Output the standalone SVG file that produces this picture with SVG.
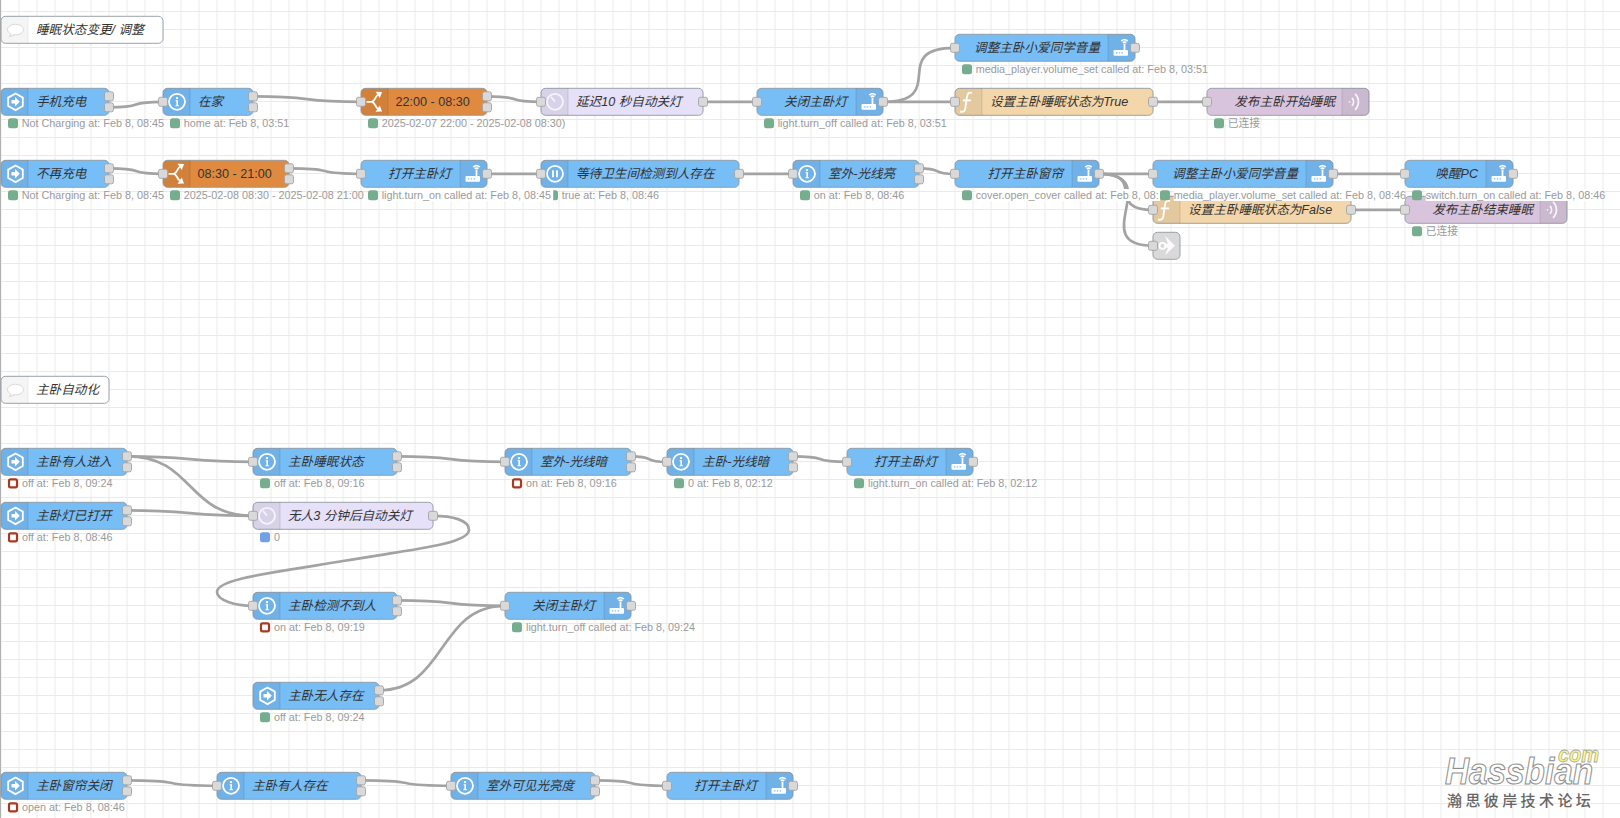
<svg xmlns="http://www.w3.org/2000/svg" width="1620" height="818" viewBox="0 0 1620 818">
<style>
text{font-family:"Liberation Sans","Noto Sans CJK SC",sans-serif}
.body{stroke:#8f9aa3;stroke-width:.9}
.blue{fill:#77bdf6}.orange{fill:#e08a3f}.delay{fill:#e6e0f8}.func{fill:#f3d6a9}.mqtt{fill:#d8c5dd}.link{fill:#d9d9d9}.note{fill:#fff}
.shade{fill:#000;fill-opacity:.06}
.sep{stroke:#000;stroke-opacity:.12;stroke-width:.9}
.lbl{font-size:12.6px;font-style:italic;fill:#333}
.plain{font-size:12.6px;fill:#333}
.end{text-anchor:end}
.st{font-size:10.8px;fill:#9a9a9a}
.bg{fill:#fff}
.ok{fill:#75ad8e}.info{fill:#6fa0e8}.bad{fill:#fff;stroke:#a83a22;stroke-width:2.2}
.wire{fill:none;stroke:#a3a3a3;stroke-width:2.7}
.ico{fill:none;stroke:#fff;stroke-width:1.8}
.fico{fill:#fff}
</style>
<defs>
<pattern id="grid" width="18" height="18" patternUnits="userSpaceOnUse" patternTransform="translate(.5,11)">
<path d="M.5 0V18M0 .5H18" fill="none" stroke="#eaeaea" stroke-width="1"/>
</pattern>
<rect id="port" x="-4.5" y="-4.5" width="9" height="9" rx="2" fill="#d9d9d9" stroke="#a3a3a3" stroke-width=".9"/>
<g id="shL"><path class="shade" d="M27 0H4.5A4.5 4.5 0 0 0 0 4.5V22.5A4.5 4.5 0 0 0 4.5 27H27Z"/><path class="sep" d="M27 0V27"/></g>
<g id="shR"><path class="shade" d="M0 0H22.5A4.5 4.5 0 0 1 27 4.5V22.5A4.5 4.5 0 0 1 22.5 27H0Z"/><path class="sep" d="M0 0V27"/></g>
<g id="hex"><path class="ico" stroke-width="2" d="M14.5 5.2L21.8 9.3V17.7L14.5 21.8L7.2 17.7V9.3Z"/><path class="fico" d="M10.5 11.8H14V8.8L18.8 13.5L14 18.2V15.2H10.5Z"/></g>
<g id="inf"><circle class="ico" cx="14" cy="13.5" r="8"/><circle class="fico" cx="14" cy="9.8" r="1.2"/><path class="fico" d="M12.6 12H15V17H16V18H12.4V17H13.4V13H12.6Z"/></g>
<g id="swi"><path class="ico" stroke-width="2.6" d="M5.5 13.5H10.5C14 13.5 14 8 17 6.5M10.5 13.5C14 13.5 14 19 17 20.5"/><path class="fico" d="M14.5 3.5L21 3.8L18.8 9.8ZM14.5 23.5L21 23.2L18.8 17.2Z"/></g>
<g id="clk"><circle class="ico" stroke-opacity=".75" cx="14" cy="13.5" r="8"/><path class="ico" stroke-opacity=".75" d="M14 13.5L10 8.5"/></g>
<g id="pau"><circle class="ico" cx="14" cy="13.5" r="8"/><path class="ico" stroke-width="1.2" d="M12 10V17M16 10V17"/></g>
<g id="rtr"><rect class="fico" x="5.5" y="15.7" width="14.5" height="5.7" rx="1"/><path class="ico" stroke-width="1.1" d="M16.5 16V9.5M14.8 8.6A2.6 2.6 0 0 1 18.2 8.6M13.3 6.8A4.8 4.8 0 0 1 19.7 6.8"/><path d="M8 18.6H9.4M10.8 18.6H12.2M13.6 18.6H15" stroke="#77bdf6" stroke-width="1.3"/></g>
<g id="fnc"><path class="ico" stroke-width="2.2" d="M17 4.8C13.5 3.4 12.3 5.5 11.8 9.5L10.3 20C9.8 23.5 7.5 24 5 23M7.8 12H16"/></g>
<g id="wav"><circle class="fico" cx="7.5" cy="13.5" r=".9" fill-opacity=".8"/><path class="ico" stroke-width="1.5" stroke-opacity=".85" d="M10 9.5A6 6 0 0 1 10 17.5M13 5.5A11 11 0 0 1 13 21.5"/></g>
<g id="lnk"><path class="fico" fill-opacity=".9" d="M12 3.5L22 13.5L12 23L15 15.5H11.5V11.5H15Z"/><circle class="ico" stroke-width="1.2" cx="9.5" cy="13.5" r="3"/></g>
<g id="bub"><path d="M14.5 8C10 8 6.5 10.3 6.5 13.3C6.5 15.2 7.8 16.6 9.8 17.5L8.5 20.5L13 18.5C13.5 18.6 14 18.6 14.5 18.6C19 18.6 22.5 16.3 22.5 13.3C22.5 10.3 19 8 14.5 8Z" fill="#fff" stroke="#d8d8d8" stroke-width="1"/></g>
</defs>

<rect width="1620" height="818" fill="#fff"/>
<rect width="1620" height="818" fill="url(#grid)"/>
<path d="M.5 0V818" stroke="#b0b0b0" stroke-width="1"/>

<g id="connectors">
<path class="wire" d="M109 107.3C149.7 107.3 122.3 101.8 163 101.8"/>
<path class="wire" d="M253 96.3C320.5 96.3 293.5 101.8 361 101.8"/>
<path class="wire" d="M487 96.3C527.7 96.3 500.3 101.8 541 101.8"/>
<path class="wire" d="M703 101.8H757"/>
<path class="wire" d="M883 101.8C950.5 101.8 887.5 47.8 955 47.8"/>
<path class="wire" d="M883 101.8H955"/>
<path class="wire" d="M1153 101.8H1207"/>
<path class="wire" d="M109 168.3C149.7 168.3 122.3 173.8 163 173.8"/>
<path class="wire" d="M289 168.3C343.2 168.3 306.8 173.8 361 173.8"/>
<path class="wire" d="M487 173.8H541"/>
<path class="wire" d="M739 173.8H793"/>
<path class="wire" d="M919 168.3C946.3 168.3 927.7 173.8 955 173.8"/>
<path class="wire" d="M1099 173.8H1153"/>
<path class="wire" d="M1099 173.8C1147.7 173.8 1104.3 209.8 1153 209.8"/>
<path class="wire" d="M1099 173.8C1166.5 173.8 1085.5 245.8 1153 245.8"/>
<path class="wire" d="M1333 173.8H1405"/>
<path class="wire" d="M1351 209.8H1405"/>
<path class="wire" d="M127 456.3C194.5 456.3 185.5 461.8 253 461.8"/>
<path class="wire" d="M127 456.3C194.5 456.3 185.5 515.8 253 515.8"/>
<path class="wire" d="M127 510.3C194.5 510.3 185.5 515.8 253 515.8"/>
<path class="wire" d="M397 456.3C464.5 456.3 437.5 461.8 505 461.8"/>
<path class="wire" d="M631 456.3C658.3 456.3 639.7 461.8 667 461.8"/>
<path class="wire" d="M793 456.3C833.7 456.3 806.3 461.8 847 461.8"/>
<path class="wire" d="M433 515.8C452 515.8 469 520 469 530C469 545 400 551 343 561C280 572 217 578 217 592C217 600 235 605.8 253 605.8"/>
<path class="wire" d="M397 600.3C464.5 600.3 437.5 605.8 505 605.8"/>
<path class="wire" d="M379 690.3C446.5 690.3 437.5 605.8 505 605.8"/>
<path class="wire" d="M127 780.3C194.5 780.3 149.5 785.8 217 785.8"/>
<path class="wire" d="M361 780.3C428.5 780.3 383.5 785.8 451 785.8"/>
<path class="wire" d="M595 780.3C649.2 780.3 612.8 785.8 667 785.8"/>
</g>

<g id="comment-sleep" transform="translate(1,16.3)"><rect class="body note" width="162" height="27" rx="4.5"/><use href="#shL" opacity=".6"/><use href="#bub"/><text class="lbl" x="35" y="18">睡眠状态变更/ 调整</text></g>
<g id="comment-auto" transform="translate(1,376.3)"><rect class="body note" width="108" height="27" rx="4.5"/><use href="#shL" opacity=".6"/><use href="#bub"/><text class="lbl" x="35" y="18">主卧自动化</text></g>

<g id="charging" transform="translate(1,88.3)"><rect class="body blue" width="108" height="27" rx="4.5"/><use href="#shL"/><use href="#hex"/><text class="lbl" x="35" y="18">手机充电</text><use href="#port" x="108" y="8"/><use href="#port" x="108" y="19"/><rect class="ok" x="7" y="30" width="10" height="10" rx="2.5"/><text class="st" x="20.7" y="39">Not Charging at: Feb 8, 08:45</text></g>
<g id="home" transform="translate(163,88.3)"><rect class="body blue" width="90" height="27" rx="4.5"/><use href="#shL"/><use href="#inf"/><text class="lbl" x="35" y="18">在家</text><use href="#port" y="13.5"/><use href="#port" x="90" y="8"/><use href="#port" x="90" y="19"/><rect class="ok" x="7" y="30" width="10" height="10" rx="2.5"/><text class="st" x="20.7" y="39">home at: Feb 8, 03:51</text></g>
<g id="night" transform="translate(361,88.3)"><rect class="body orange" width="126" height="27" rx="4.5"/><use href="#shL"/><use href="#swi"/><text class="plain" x="34.5" y="18">22:00 - 08:30</text><use href="#port" y="13.5"/><use href="#port" x="126" y="8"/><use href="#port" x="126" y="19"/><rect class="ok" x="7" y="30" width="10" height="10" rx="2.5"/><text class="st" x="20.7" y="39">2025-02-07 22:00 - 2025-02-08 08:30)</text></g>
<g id="delay-10s" transform="translate(541,88.3)"><rect class="body delay" width="162" height="27" rx="4.5"/><use href="#shL"/><use href="#clk"/><text class="lbl" x="35" y="18">延迟10 秒自动关灯</text><use href="#port" y="13.5"/><use href="#port" x="162" y="13.5"/></g>
<g id="light-off-1" transform="translate(757,88.3)"><rect class="body blue" width="126" height="27" rx="4.5"/><use href="#shR" x="99"/><use href="#rtr" x="99"/><text class="lbl end" x="90" y="18">关闭主卧灯</text><use href="#port" y="13.5"/><use href="#port" x="126" y="13.5"/><rect class="ok" x="7" y="30" width="10" height="10" rx="2.5"/><text class="st" x="20.7" y="39">light.turn_off called at: Feb 8, 03:51</text></g>
<g id="volume-1" transform="translate(955,34.3)"><rect class="body blue" width="180" height="27" rx="4.5"/><use href="#shR" x="153"/><use href="#rtr" x="153"/><text class="lbl end" x="145" y="18">调整主卧小爱同学音量</text><use href="#port" y="13.5"/><use href="#port" x="180" y="13.5"/><rect class="ok" x="7" y="30" width="10" height="10" rx="2.5"/><text class="st" x="20.7" y="39">media_player.volume_set called at: Feb 8, 03:51</text></g>
<g id="set-true" transform="translate(955,88.3)"><rect class="body func" width="198" height="27" rx="4.5"/><use href="#shL"/><use href="#fnc"/><text class="lbl" x="35" y="18">设置主卧睡眠状态为True</text><use href="#port" y="13.5"/><use href="#port" x="198" y="13.5"/></g>
<g id="pub-start" transform="translate(1207,88.3)"><rect class="body mqtt" width="162" height="27" rx="4.5"/><use href="#shR" x="135"/><use href="#wav" x="135"/><text class="lbl end" x="128" y="18">发布主卧开始睡眠</text><use href="#port" y="13.5"/><rect class="ok" x="7" y="30" width="10" height="10" rx="2.5"/><text class="st" x="20.7" y="39">已连接</text></g>

<g id="not-charging" transform="translate(1,160.3)"><rect class="body blue" width="108" height="27" rx="4.5"/><use href="#shL"/><use href="#hex"/><text class="lbl" x="35" y="18">不再充电</text><use href="#port" x="108" y="8"/><use href="#port" x="108" y="19"/><rect class="ok" x="7" y="30" width="10" height="10" rx="2.5"/><text class="st" x="20.7" y="39">Not Charging at: Feb 8, 08:45</text></g>
<g id="day" transform="translate(163,160.3)"><rect class="body orange" width="126" height="27" rx="4.5"/><use href="#shL"/><use href="#swi"/><text class="plain" x="34.5" y="18">08:30 - 21:00</text><use href="#port" y="13.5"/><use href="#port" x="126" y="8"/><use href="#port" x="126" y="19"/><rect class="ok" x="7" y="30" width="10" height="10" rx="2.5"/><text class="st" x="20.7" y="39">2025-02-08 08:30 - 2025-02-08 21:00</text></g>
<g id="wait-bath" transform="translate(541,160.3)"><rect class="body blue" width="198" height="27" rx="4.5"/><use href="#shL"/><use href="#pau"/><text class="lbl" x="35" y="18">等待卫生间检测到人存在</text><use href="#port" y="13.5"/><use href="#port" x="198" y="13.5"/><rect class="ok" x="7" y="30" width="10" height="10" rx="2.5"/><text class="st" x="20.7" y="39">true at: Feb 8, 08:46</text></g>
<g id="light-on-1" transform="translate(361,160.3)"><rect class="body blue" width="126" height="27" rx="4.5"/><use href="#shR" x="99"/><use href="#rtr" x="99"/><text class="lbl end" x="90" y="18">打开主卧灯</text><use href="#port" y="13.5"/><use href="#port" x="126" y="13.5"/><rect class="ok" x="7" y="30" width="10" height="10" rx="2.5"/><rect class="bg" x="20.7" y="28.7" width="171.5" height="12"/><text class="st" x="20.7" y="39">light.turn_on called at: Feb 8, 08:45</text></g>
<g id="outdoor-bright" transform="translate(793,160.3)"><rect class="body blue" width="126" height="27" rx="4.5"/><use href="#shL"/><use href="#inf"/><text class="lbl" x="35" y="18">室外-光线亮</text><use href="#port" y="13.5"/><use href="#port" x="126" y="8"/><use href="#port" x="126" y="19"/><rect class="ok" x="7" y="30" width="10" height="10" rx="2.5"/><text class="st" x="20.7" y="39">on at: Feb 8, 08:46</text></g>
<g id="set-false" transform="translate(1153,196.3)"><rect class="body func" width="198" height="27" rx="4.5"/><use href="#shL"/><use href="#fnc"/><text class="lbl" x="35" y="18">设置主卧睡眠状态为False</text><use href="#port" y="13.5"/><use href="#port" x="198" y="13.5"/></g>
<g id="pub-end" transform="translate(1405,196.3)"><rect class="body mqtt" width="162" height="27" rx="4.5"/><use href="#shR" x="135"/><use href="#wav" x="135"/><text class="lbl end" x="128" y="18">发布主卧结束睡眠</text><use href="#port" y="13.5"/><rect class="ok" x="7" y="30" width="10" height="10" rx="2.5"/><text class="st" x="20.7" y="39">已连接</text></g>
<g id="link-out" transform="translate(1153,232.3)"><rect class="body link" width="27" height="27" rx="4.5"/><use href="#lnk"/><use href="#port" y="13.5"/></g>
<g id="curtain-open" transform="translate(955,160.3)"><rect class="body blue" width="144" height="27" rx="4.5"/><use href="#shR" x="117"/><use href="#rtr" x="117"/><text class="lbl end" x="108" y="18">打开主卧窗帘</text><use href="#port" y="13.5"/><use href="#port" x="144" y="13.5"/><rect class="ok" x="7" y="30" width="10" height="10" rx="2.5"/><rect class="bg" x="20.7" y="28.7" width="184.3" height="12"/><text class="st" x="20.7" y="39">cover.open_cover called at: Feb 8, 08:</text></g>
<g id="volume-2" transform="translate(1153,160.3)"><rect class="body blue" width="180" height="27" rx="4.5"/><use href="#shR" x="153"/><use href="#rtr" x="153"/><text class="lbl end" x="145" y="18">调整主卧小爱同学音量</text><use href="#port" y="13.5"/><use href="#port" x="180" y="13.5"/><rect class="ok" x="7" y="30" width="10" height="10" rx="2.5"/><rect class="bg" x="20.7" y="28.7" width="231.3" height="12"/><text class="st" x="20.7" y="39">media_player.volume_set called at: Feb 8, 08:46</text></g>
<g id="wake-pc" transform="translate(1405,160.3)"><rect class="body blue" width="108" height="27" rx="4.5"/><use href="#shR" x="81"/><use href="#rtr" x="81"/><text class="lbl end" x="73" y="18">唤醒PC</text><use href="#port" y="13.5"/><use href="#port" x="108" y="13.5"/><rect class="ok" x="7" y="30" width="10" height="10" rx="2.5"/><rect class="bg" x="20.7" y="28.7" width="175" height="12"/><text class="st" x="20.7" y="39">switch.turn_on called at: Feb 8, 08:46</text></g>

<g id="someone-in" transform="translate(1,448.3)"><rect class="body blue" width="126" height="27" rx="4.5"/><use href="#shL"/><use href="#hex"/><text class="lbl" x="35" y="18">主卧有人进入</text><use href="#port" x="126" y="8"/><use href="#port" x="126" y="19"/><rect class="bad" x="8" y="31" width="8" height="8" rx="1.5"/><text class="st" x="21" y="39">off at: Feb 8, 09:24</text></g>
<g id="sleep-state" transform="translate(253,448.3)"><rect class="body blue" width="144" height="27" rx="4.5"/><use href="#shL"/><use href="#inf"/><text class="lbl" x="35" y="18">主卧睡眠状态</text><use href="#port" y="13.5"/><use href="#port" x="144" y="8"/><use href="#port" x="144" y="19"/><rect class="ok" x="7" y="30" width="10" height="10" rx="2.5"/><text class="st" x="21" y="39">off at: Feb 8, 09:16</text></g>
<g id="outdoor-dark" transform="translate(505,448.3)"><rect class="body blue" width="126" height="27" rx="4.5"/><use href="#shL"/><use href="#inf"/><text class="lbl" x="35" y="18">室外-光线暗</text><use href="#port" y="13.5"/><use href="#port" x="126" y="8"/><use href="#port" x="126" y="19"/><rect class="bad" x="8" y="31" width="8" height="8" rx="1.5"/><text class="st" x="21" y="39">on at: Feb 8, 09:16</text></g>
<g id="room-dark" transform="translate(667,448.3)"><rect class="body blue" width="126" height="27" rx="4.5"/><use href="#shL"/><use href="#inf"/><text class="lbl" x="35" y="18">主卧-光线暗</text><use href="#port" y="13.5"/><use href="#port" x="126" y="8"/><use href="#port" x="126" y="19"/><rect class="ok" x="7" y="30" width="10" height="10" rx="2.5"/><text class="st" x="21" y="39">0 at: Feb 8, 02:12</text></g>
<g id="light-on-2" transform="translate(847,448.3)"><rect class="body blue" width="126" height="27" rx="4.5"/><use href="#shR" x="99"/><use href="#rtr" x="99"/><text class="lbl end" x="90" y="18">打开主卧灯</text><use href="#port" y="13.5"/><use href="#port" x="126" y="13.5"/><rect class="ok" x="7" y="30" width="10" height="10" rx="2.5"/><text class="st" x="21" y="39">light.turn_on called at: Feb 8, 02:12</text></g>
<g id="light-already-on" transform="translate(1,502.3)"><rect class="body blue" width="126" height="27" rx="4.5"/><use href="#shL"/><use href="#hex"/><text class="lbl" x="35" y="18">主卧灯已打开</text><use href="#port" x="126" y="8"/><use href="#port" x="126" y="19"/><rect class="bad" x="8" y="31" width="8" height="8" rx="1.5"/><text class="st" x="21" y="39">off at: Feb 8, 08:46</text></g>
<g id="delay-3min" transform="translate(253,502.3)"><rect class="body delay" width="180" height="27" rx="4.5"/><use href="#shL"/><use href="#clk"/><text class="lbl" x="35" y="18">无人3 分钟后自动关灯</text><use href="#port" y="13.5"/><use href="#port" x="180" y="13.5"/><rect class="info" x="7" y="30" width="10" height="10" rx="2.5"/><text class="st" x="21" y="39">0</text></g>
<g id="nobody-detected" transform="translate(253,592.3)"><rect class="body blue" width="144" height="27" rx="4.5"/><use href="#shL"/><use href="#inf"/><text class="lbl" x="35" y="18">主卧检测不到人</text><use href="#port" y="13.5"/><use href="#port" x="144" y="8"/><use href="#port" x="144" y="19"/><rect class="bad" x="8" y="31" width="8" height="8" rx="1.5"/><text class="st" x="21" y="39">on at: Feb 8, 09:19</text></g>
<g id="light-off-2" transform="translate(505,592.3)"><rect class="body blue" width="126" height="27" rx="4.5"/><use href="#shR" x="99"/><use href="#rtr" x="99"/><text class="lbl end" x="90" y="18">关闭主卧灯</text><use href="#port" y="13.5"/><use href="#port" x="126" y="13.5"/><rect class="ok" x="7" y="30" width="10" height="10" rx="2.5"/><text class="st" x="21" y="39">light.turn_off called at: Feb 8, 09:24</text></g>
<g id="nobody-present" transform="translate(253,682.3)"><rect class="body blue" width="126" height="27" rx="4.5"/><use href="#shL"/><use href="#hex"/><text class="lbl" x="35" y="18">主卧无人存在</text><use href="#port" x="126" y="8"/><use href="#port" x="126" y="19"/><rect class="ok" x="7" y="30" width="10" height="10" rx="2.5"/><text class="st" x="21" y="39">off at: Feb 8, 09:24</text></g>
<g id="curtain-closed" transform="translate(1,772.3)"><rect class="body blue" width="126" height="27" rx="4.5"/><use href="#shL"/><use href="#hex"/><text class="lbl" x="35" y="18">主卧窗帘关闭</text><use href="#port" x="126" y="8"/><use href="#port" x="126" y="19"/><rect class="bad" x="8" y="31" width="8" height="8" rx="1.5"/><text class="st" x="21" y="39">open at: Feb 8, 08:46</text></g>
<g id="someone-present" transform="translate(217,772.3)"><rect class="body blue" width="144" height="27" rx="4.5"/><use href="#shL"/><use href="#inf"/><text class="lbl" x="35" y="18">主卧有人存在</text><use href="#port" y="13.5"/><use href="#port" x="144" y="8"/><use href="#port" x="144" y="19"/></g>
<g id="outdoor-lux" transform="translate(451,772.3)"><rect class="body blue" width="144" height="27" rx="4.5"/><use href="#shL"/><use href="#inf"/><text class="lbl" x="35" y="18">室外可见光亮度</text><use href="#port" y="13.5"/><use href="#port" x="144" y="8"/><use href="#port" x="144" y="19"/></g>
<g id="light-on-3" transform="translate(667,772.3)"><rect class="body blue" width="126" height="27" rx="4.5"/><use href="#shR" x="99"/><use href="#rtr" x="99"/><text class="lbl end" x="90" y="18">打开主卧灯</text><use href="#port" y="13.5"/><use href="#port" x="126" y="13.5"/></g>

<!-- forum mark, lower right -->
<g id="forum-mark">
<text x="1445" y="784" font-size="36" font-weight="700" font-style="italic" fill="#fff" stroke="#8f8f8f" stroke-width="1.1" textLength="148" lengthAdjust="spacingAndGlyphs">Hassbian</text>
<text x="1558" y="762" font-size="22" font-weight="700" font-style="italic" fill="#fdf77a" stroke="#a8a8a8" stroke-width=".8" textLength="41" lengthAdjust="spacingAndGlyphs">com</text>
<text x="1447" y="806" font-size="15" font-weight="500" fill="#666" letter-spacing="3.4">瀚思彼岸技术论坛</text>
</g>
</svg>
